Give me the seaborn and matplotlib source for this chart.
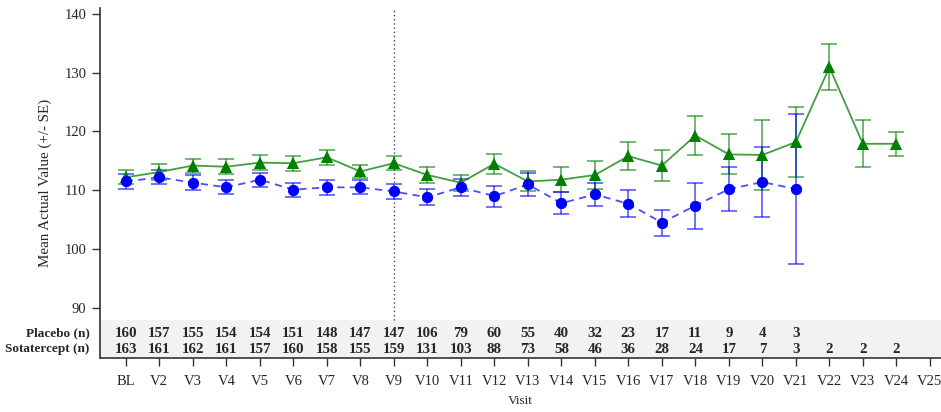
import numpy as np
import pandas as pd
import matplotlib
matplotlib.use("Agg")
import matplotlib.pyplot as plt
import seaborn as sns

visits = ["BL"] + [f"V{i}" for i in range(2, 26)]

# Placebo (blue, dashed, circles)
placebo_mean = [111.5, 112.2, 111.3, 110.5, 111.8, 110.1, 110.5, 110.5, 109.8, 108.8, 110.5,
                109.0, 111.0, 107.8, 109.3, 107.7, 104.5, 107.4, 110.2, 111.4, 110.2]
placebo_se = [1.2, 1.2, 1.25, 1.2, 1.2, 1.2, 1.25, 1.2, 1.25, 1.35, 1.45,
              1.8, 1.9, 1.9, 2.0, 2.3, 2.2, 3.9, 3.8, 5.9, 12.7]
placebo_n = [160, 157, 155, 154, 154, 151, 148, 147, 147, 106, 79, 60, 55, 40, 32, 23, 17, 11, 9, 4, 3]

# Sotatercept (green, solid, triangles)
sota_mean = [112.2, 113.1, 114.2, 114.0, 114.7, 114.6, 115.6, 113.2, 114.6, 112.6, 111.3, 114.5,
             111.5, 111.8, 112.6, 115.8, 114.2, 119.3, 116.1, 116.0, 118.2, 130.9, 117.9, 117.9]
sota_se = [1.2, 1.3, 1.2, 1.25, 1.3, 1.3, 1.3, 1.05, 1.2, 1.3, 1.35, 1.7,
           1.7, 2.1, 2.4, 2.4, 2.7, 3.3, 3.4, 5.9, 5.9, 3.9, 4.0, 2.0]
sota_n = [163, 161, 162, 161, 157, 160, 158, 155, 159, 131, 103, 88, 73, 58, 46, 36, 28, 24, 17, 7, 3, 2, 2, 2]

plac = pd.DataFrame({"x": np.arange(len(placebo_mean)), "mean": placebo_mean, "se": placebo_se})
sota = pd.DataFrame({"x": np.arange(len(sota_mean)), "mean": sota_mean, "se": sota_se})

sns.set_style("ticks")
plt.rcParams["font.family"] = ["Liberation Serif", "DejaVu Serif"]

fig = plt.figure(figsize=(9.41, 4.12), dpi=100)
ax = fig.add_axes([0.106, 0.131, 0.894, 0.850])

blue = "#0000ff"
green = "#008000"

ax.errorbar(sota["x"], sota["mean"], yerr=sota["se"], fmt="none", ecolor=green,
            elinewidth=1.3, capsize=6, capthick=1.3, alpha=0.6, zorder=2)
ax.errorbar(plac["x"], plac["mean"], yerr=plac["se"], fmt="none", ecolor=blue,
            elinewidth=1.3, capsize=6, capthick=1.3, alpha=0.6, zorder=2)

sns.lineplot(data=sota, x="x", y="mean", ax=ax, color=green, marker="^", markersize=8,
             markeredgewidth=0, linewidth=1.3, alpha=0.75, zorder=3)
sns.lineplot(data=plac, x="x", y="mean", ax=ax, color=blue, marker="o", markersize=8,
             markeredgewidth=0, linewidth=1.3, linestyle=(0, (4, 3)), alpha=0.7, zorder=3)
# solid markers on top
ax.plot(sota["x"], sota["mean"], "^", color=green, markersize=8, markeredgewidth=0, zorder=4)
ax.plot(plac["x"], plac["mean"], "o", color=blue, markersize=8, markeredgewidth=0, zorder=4)

ymin, ymax = 81.5, 141.0
band_top = 88.0
ax.set_ylim(ymin, ymax)
ax.set_xlim(-0.776, 24.33)

# n table band
ax.axhspan(ymin, band_top, color="#f2f2f2", zorder=0, lw=0)
ax.axvline(8, ymin=(band_top - ymin) / (ymax - ymin), ymax=1, color="#444444",
           linestyle=(0, (1, 2)), linewidth=1, zorder=1)

tf = ax.get_yaxis_transform()
for i, n in enumerate(placebo_n):
    ax.text(i, 85.75, str(n), ha="center", va="center", fontsize=10.8, fontweight="bold")
for i, n in enumerate(sota_n):
    ax.text(i, 83.0, str(n), ha="center", va="center", fontsize=10.8, fontweight="bold")
ax.text(-0.012, 85.75, "Placebo (n)", transform=tf, ha="right", va="center",
        fontsize=9.5, fontweight="bold")
ax.text(-0.012, 83.0, "Sotatercept (n)", transform=tf, ha="right", va="center",
        fontsize=9.5, fontweight="bold")

ax.set_yticks([90, 100, 110, 120, 130, 140])
ax.set_xticks(np.arange(len(visits)))
ax.set_xticklabels(visits)
ax.tick_params(axis="both", labelsize=10.5, length=6, width=1, color="#333333")
ax.tick_params(axis="x", pad=6)

ax.set_xlabel("Visit", fontsize=9.5, labelpad=5)
ax.set_ylabel("Mean Actual Value (+/- SE)", fontsize=10.8, labelpad=9)

sns.despine(ax=ax, top=True, right=True)
for s in ["left", "bottom"]:
    ax.spines[s].set_color("#333333")
    ax.spines[s].set_linewidth(1.2)

fig.savefig("out.png", dpi=100)
